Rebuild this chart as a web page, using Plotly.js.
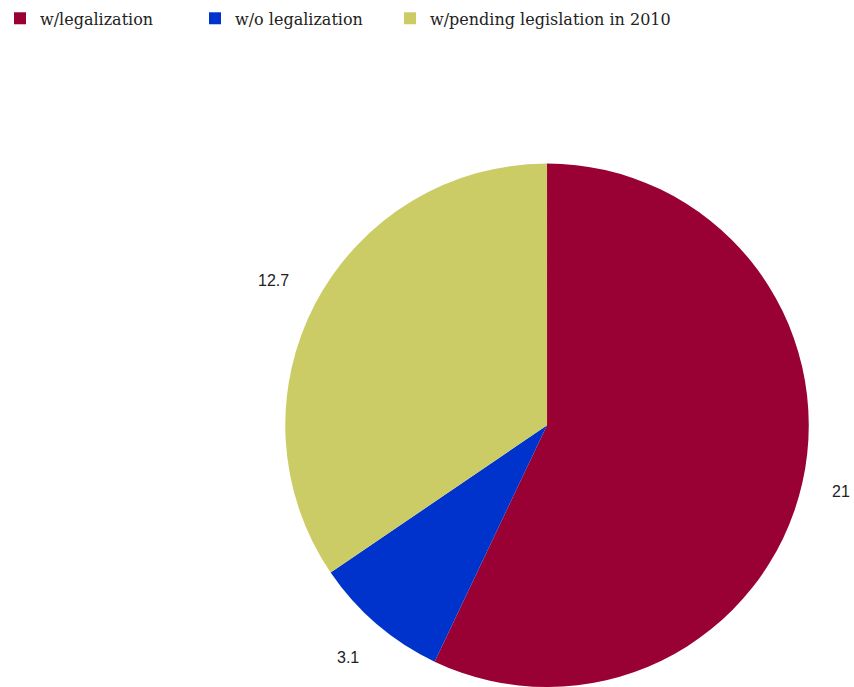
<!DOCTYPE html>
<html>
<head>
<meta charset="utf-8">
<script src="https://cdn.plot.ly/plotly-3.0.1.min.js"></script>
<style>html,body{margin:0;padding:0;background:#fff;}#chart{width:854px;height:687px;}</style>
</head>
<body>
<div id="chart"></div>
<script>
var categories = ["w/legalization", "w/o legalization", "w/pending legislation in 2010"];
var values = [21, 3.1, 12.7];
var valueLabels = ["21", "3.1", "12.7"];
var colors = ["#990033", "#0033CC", "#CCCC66"];

var W = 854, H = 687;
var domX = [0.3326, 0.9485], domY = [0, 0.762];

var trace = {
  type: "pie",
  labels: categories,
  values: values,
  sort: false,
  direction: "clockwise",
  rotation: 0,
  marker: {colors: colors, line: {width: 0}},
  textinfo: "none",
  automargin: false,
  hoverinfo: "label+value",
  domain: {x: domX, y: domY}
};

// value labels placed outside the slices, along each slice's mid angle
var cx = (domX[0] + domX[1]) / 2 * W;
var cy = (1 - (domY[0] + domY[1]) / 2) * H;
var r = Math.min((domX[1] - domX[0]) * W, (domY[1] - domY[0]) * H) / 2;
var total = values.reduce(function (a, b) { return a + b; }, 0);
var annotations = [];
var cum = 0;
values.forEach(function (v, i) {
  var mid = (cum + v / 2) / total * 2 * Math.PI;
  cum += v;
  var s = Math.sin(mid), c = Math.cos(mid);
  var w = valueLabels[i].length * 8.2, h = 16;
  var d = r + 30 + Math.abs(s) * w / 2 + Math.abs(c) * h / 2;
  var px = cx + d * s, py = cy - d * c;
  annotations.push({
    xref: "paper", yref: "paper",
    x: px / W, y: 1 - py / H,
    xanchor: "center", yanchor: "middle",
    text: valueLabels[i], showarrow: false,
    font: {family: "Liberation Sans, Arial, sans-serif", size: 16, color: "#222"}
  });
});

var layout = {
  width: W,
  height: H,
  margin: {l: 0, r: 0, t: 0, b: 0},
  paper_bgcolor: "#fff",
  showlegend: true,
  annotations: annotations,
  legend: {
    orientation: "h",
    x: 0, y: 0.998, xanchor: "left", yanchor: "top",
    bgcolor: "rgba(0,0,0,0)",
    font: {family: "DejaVu Serif, serif", size: 16, color: "#222"},
    itemwidth: 30,
    entrywidth: 150,
    traceorder: "normal"
  }
};

Plotly.newPlot("chart", [trace], layout, {displayModeBar: false, staticPlot: true}).then(function (gd) {
  // let the last legend entry's text run past the fixed entry width
  var sb = gd.querySelectorAll(".legend .scrollbox, .legend [clip-path]");
  sb.forEach(function (el) { el.removeAttribute("clip-path"); });
});
</script>
</body>
</html>
